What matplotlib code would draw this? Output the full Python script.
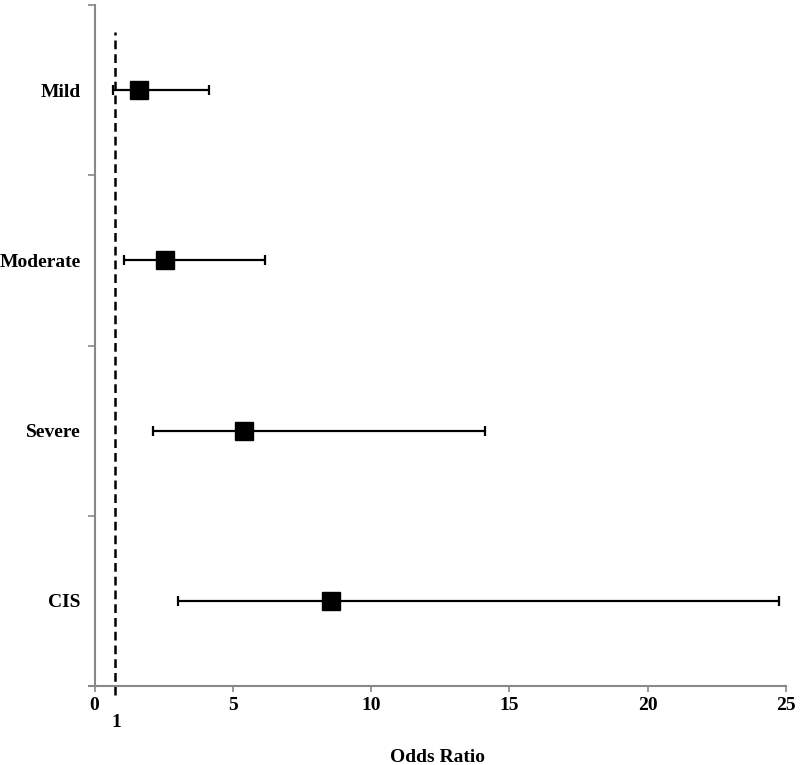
import numpy as np
import matplotlib
matplotlib.use('Agg')
import matplotlib.pyplot as plt

# values
groups = ['Mild', 'Moderate', 'Severe', 'CIS']
odds = [1.6, 2.55, 5.4, 8.55]
lower = [0.65, 1.05, 2.1, 3.0]
upper = [4.15, 6.15, 14.1, 24.75]
ref_x = 0.75          # dashed reference line (labelled "1")
xticks = [0, 5, 10, 15, 20, 25]

plt.rcParams['font.family'] = ['Liberation Serif', 'DejaVu Serif']
plt.rcParams['font.weight'] = 'bold'

fig = plt.figure(figsize=(8, 7.65), dpi=100)
ax = fig.add_axes([89 / 800, 1 - 686 / 765, (786 - 89) / 800, (686 - 5) / 765])

n = len(groups)
ypos = n - 0.5 - np.arange(n)
err = [np.array(odds) - np.array(lower), np.array(upper) - np.array(odds)]
ax.errorbar(odds, ypos, xerr=err, fmt='s', color='black', ecolor='black',
            markersize=13.5, elinewidth=1.6, capsize=3.8, capthick=1.6, zorder=3)

ax.plot([ref_x, ref_x], [-0.055, 3.84], color='black', lw=1.8,
        linestyle=(0, (3.5, 2)), clip_on=False, zorder=2)
ax.text(ref_x + 0.05, -0.165, '1', ha='center', va='top', fontsize=14,
        fontweight='bold', transform=ax.transData)

ax.set_xlim(-0.2, 25)
ax.set_ylim(0, n)
ax.set_xticks(xticks)
ax.set_xticklabels([str(t) for t in xticks], fontsize=14, fontweight='bold')
ax.set_yticks(np.arange(n + 1))
ax.set_yticklabels([])
ax.set_yticks(ypos, minor=True)
ax.set_yticklabels(groups, minor=True, fontweight='bold')
ax.tick_params(axis='y', which='minor', length=0, pad=10, labelsize=14)
ax.tick_params(axis='y', which='major', length=5, color='#888888', width=1.2)
ax.tick_params(axis='x', length=4, color='#888888', width=1.2, pad=4)

ax.spines['top'].set_visible(False)
ax.spines['right'].set_visible(False)
ax.spines['left'].set_position(('data', 0))
for s in ['left', 'bottom']:
    ax.spines[s].set_color('#888888')
    ax.spines[s].set_linewidth(1.5)

ax.set_xlabel('Odds Ratio', fontsize=14, fontweight='bold', labelpad=25)

fig.savefig('out.png', dpi=100)
